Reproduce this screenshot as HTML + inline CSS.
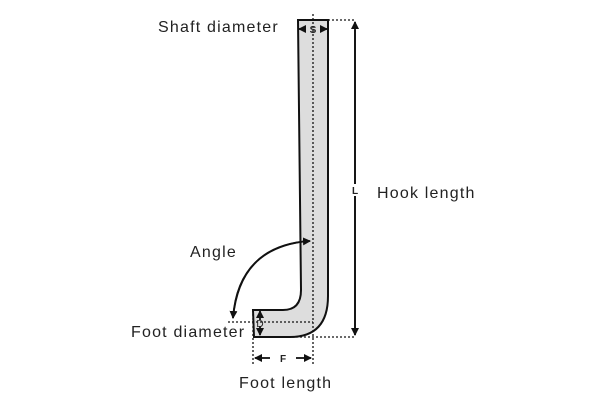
<!DOCTYPE html>
<html><head><style>body{margin:0;background:#fff}svg{display:block}text{font-family:"Liberation Sans",sans-serif;fill:#222}.l{letter-spacing:1.2px}</style></head><body>
<svg width="600" height="400" viewBox="0 0 600 400">
<defs><marker id="a" markerWidth="8" markerHeight="8" refX="7" refY="4" orient="auto" markerUnits="userSpaceOnUse"><path d="M0,0 L8,4 L0,8 z" fill="#111"/></marker></defs>
<path d="M298,20 L328,20 L328,296 Q328,337 290,337 L254,337 L253,310 L283,310 Q301,310 301,290 Z" fill="#ddd" stroke="#111" stroke-width="2"/>
<g stroke="#111" stroke-width="1.3" stroke-dasharray="2,2" fill="none">
<line x1="313" y1="14" x2="313" y2="364"/>
<line x1="328" y1="20" x2="356" y2="20"/>
<line x1="292" y1="337" x2="356" y2="337"/>
<line x1="228" y1="322" x2="313" y2="322"/>
<line x1="253" y1="310" x2="253" y2="364"/>
</g>
<g stroke="#111" stroke-width="1.8" fill="none">
<line x1="355" y1="335" x2="355" y2="22" marker-end="url(#a)"/>
<line x1="355" y1="30" x2="355" y2="335" marker-end="url(#a)"/>
<line x1="306" y1="29" x2="299" y2="29" marker-end="url(#a)"/>
<line x1="320" y1="29" x2="327" y2="29" marker-end="url(#a)"/>
<line x1="260" y1="320" x2="260" y2="311" marker-end="url(#a)"/>
<line x1="260" y1="326" x2="260" y2="335" marker-end="url(#a)"/>
<line x1="270" y1="358" x2="255" y2="358" marker-end="url(#a)"/>
<line x1="296" y1="358" x2="311" y2="358" marker-end="url(#a)"/>
<path d="M233,318 Q240,245 310,241" marker-end="url(#a)"/>
<path d="M308,241 Q238,248 233,318" marker-end="url(#a)"/>
</g>
<rect x="349" y="184" width="12" height="12" fill="#fff"/>
<text x="355" y="194" font-size="10" text-anchor="middle" font-weight="bold">L</text>
<text x="313" y="33" font-size="10" text-anchor="middle" font-weight="bold">S</text>
<text x="260" y="327" font-size="10" text-anchor="middle">D</text>
<text x="283" y="362" font-size="10" text-anchor="middle" font-weight="bold">F</text>
<text class="l" x="158" y="32" font-size="16">Shaft diameter</text>
<text class="l" x="377" y="198" font-size="16">Hook length</text>
<text class="l" x="190" y="257" font-size="16">Angle</text>
<text class="l" x="131" y="337" font-size="16">Foot diameter</text>
<text class="l" x="239" y="388" font-size="16">Foot length</text>
</svg>
</body></html>
